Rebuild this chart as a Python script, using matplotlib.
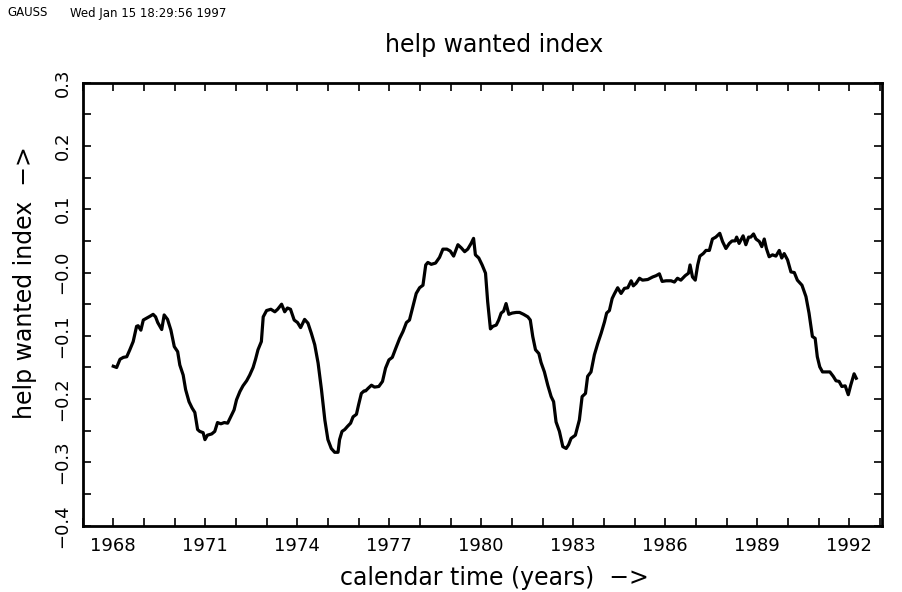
import numpy as np
import matplotlib
matplotlib.use("Agg")
import matplotlib.pyplot as plt
from matplotlib.ticker import MultipleLocator, FixedLocator, FuncFormatter


# points (decimal year, index value)
years = [
    1968.00, 1968.11, 1968.22, 1968.33, 1968.44, 1968.54, 1968.65, 1968.76, 1968.81, 1968.90,
    1968.98, 1969.09, 1969.20, 1969.30, 1969.38, 1969.45, 1969.58, 1969.66, 1969.77, 1969.88,
    1969.99, 1970.10, 1970.17, 1970.28, 1970.36, 1970.47, 1970.57, 1970.66, 1970.75, 1970.82,
    1970.93, 1970.99, 1971.07, 1971.21, 1971.31, 1971.40, 1971.51, 1971.62, 1971.73, 1971.83,
    1971.94, 1972.02, 1972.13, 1972.23, 1972.35, 1972.45, 1972.56, 1972.64, 1972.72, 1972.83,
    1972.89, 1973.00, 1973.14, 1973.27, 1973.36, 1973.49, 1973.59, 1973.68, 1973.78, 1973.90,
    1974.01, 1974.11, 1974.24, 1974.35, 1974.46, 1974.57, 1974.68, 1974.79, 1974.90, 1975.00,
    1975.11, 1975.22, 1975.33, 1975.38, 1975.46, 1975.55, 1975.64, 1975.74, 1975.82, 1975.93,
    1976.00, 1976.09, 1976.18, 1976.23, 1976.31, 1976.42, 1976.52, 1976.66, 1976.78, 1976.88,
    1976.99, 1977.10, 1977.21, 1977.34, 1977.45, 1977.56, 1977.66, 1977.77, 1977.88, 1977.99,
    1978.10, 1978.19, 1978.26, 1978.37, 1978.51, 1978.64, 1978.75, 1978.88, 1978.99, 1979.10,
    1979.24, 1979.35, 1979.46, 1979.56, 1979.67, 1979.75, 1979.81, 1979.92, 1980.03, 1980.14,
    1980.21, 1980.30, 1980.38, 1980.49, 1980.57, 1980.65, 1980.73, 1980.81, 1980.90, 1981.01,
    1981.14, 1981.25, 1981.38, 1981.52, 1981.60, 1981.68, 1981.77, 1981.88, 1981.95, 1982.06,
    1982.17, 1982.28, 1982.36, 1982.44, 1982.55, 1982.66, 1982.77, 1982.85, 1982.93, 1983.07,
    1983.20, 1983.29, 1983.40, 1983.47, 1983.58, 1983.69, 1983.80, 1983.91, 1984.02, 1984.09,
    1984.18, 1984.27, 1984.34, 1984.45, 1984.56, 1984.67, 1984.78, 1984.89, 1984.96, 1985.05,
    1985.16, 1985.26, 1985.43, 1985.59, 1985.70, 1985.81, 1985.90, 1986.03, 1986.19, 1986.30,
    1986.40, 1986.51, 1986.65, 1986.76, 1986.81, 1986.89, 1986.98, 1987.06, 1987.13, 1987.24,
    1987.33, 1987.44, 1987.54, 1987.65, 1987.78, 1987.87, 1987.98, 1988.09, 1988.18, 1988.28,
    1988.33, 1988.41, 1988.54, 1988.63, 1988.72, 1988.79, 1988.88, 1988.96, 1989.07, 1989.15,
    1989.23, 1989.30, 1989.39, 1989.50, 1989.61, 1989.72, 1989.80, 1989.88, 1989.99, 1990.10,
    1990.21, 1990.31, 1990.46, 1990.59, 1990.69, 1990.80, 1990.89, 1990.96, 1991.04, 1991.13,
    1991.24, 1991.37, 1991.48, 1991.57, 1991.67, 1991.76, 1991.87, 1991.97, 1992.05, 1992.16,
    1992.23,
]
hwi = [
    -0.148, -0.150, -0.137, -0.134, -0.133, -0.122, -0.109, -0.085, -0.084, -0.091,
    -0.075, -0.072, -0.069, -0.066, -0.070, -0.079, -0.090, -0.067, -0.074, -0.091,
    -0.117, -0.125, -0.146, -0.162, -0.185, -0.204, -0.214, -0.221, -0.248, -0.251,
    -0.253, -0.264, -0.257, -0.255, -0.251, -0.237, -0.239, -0.237, -0.238, -0.228,
    -0.217, -0.201, -0.188, -0.179, -0.171, -0.162, -0.150, -0.137, -0.122, -0.109,
    -0.070, -0.060, -0.058, -0.062, -0.058, -0.050, -0.062, -0.056, -0.058, -0.075,
    -0.079, -0.087, -0.074, -0.080, -0.096, -0.114, -0.143, -0.185, -0.233, -0.264,
    -0.278, -0.284, -0.284, -0.264, -0.251, -0.248, -0.243, -0.238, -0.228, -0.224,
    -0.209, -0.191, -0.187, -0.187, -0.183, -0.178, -0.181, -0.180, -0.172, -0.151,
    -0.138, -0.134, -0.120, -0.104, -0.093, -0.079, -0.075, -0.054, -0.033, -0.024,
    -0.020, 0.012, 0.016, 0.013, 0.015, 0.024, 0.037, 0.037, 0.034, 0.026,
    0.044, 0.039, 0.033, 0.037, 0.046, 0.054, 0.028, 0.023, 0.012, -0.001,
    -0.046, -0.089, -0.085, -0.083, -0.075, -0.064, -0.061, -0.049, -0.066, -0.064,
    -0.063, -0.063, -0.066, -0.070, -0.075, -0.101, -0.122, -0.128, -0.142, -0.157,
    -0.178, -0.196, -0.204, -0.236, -0.251, -0.275, -0.278, -0.272, -0.262, -0.257,
    -0.233, -0.196, -0.191, -0.164, -0.157, -0.130, -0.112, -0.096, -0.078, -0.064,
    -0.060, -0.041, -0.034, -0.024, -0.033, -0.025, -0.024, -0.013, -0.021, -0.017,
    -0.009, -0.012, -0.011, -0.007, -0.005, -0.002, -0.014, -0.013, -0.013, -0.015,
    -0.009, -0.012, -0.005, -0.001, 0.012, -0.007, -0.012, 0.012, 0.026, 0.030,
    0.035, 0.035, 0.053, 0.056, 0.062, 0.049, 0.038, 0.046, 0.050, 0.050,
    0.056, 0.046, 0.058, 0.044, 0.056, 0.056, 0.061, 0.053, 0.049, 0.041,
    0.053, 0.038, 0.025, 0.028, 0.026, 0.035, 0.023, 0.030, 0.020, 0.001,
    0.000, -0.012, -0.020, -0.038, -0.064, -0.101, -0.104, -0.133, -0.149, -0.157,
    -0.157, -0.157, -0.164, -0.171, -0.172, -0.180, -0.179, -0.193, -0.178, -0.160,
    -0.167,
]

year_labels = [1968, 1971, 1974, 1977, 1980, 1983, 1986, 1989, 1992]

plt.rcParams["font.family"] = ["DejaVu Sans"]

fig = plt.figure(figsize=(9.02, 5.92), dpi=100)
ax = fig.add_axes([82.6 / 902, 1 - 525.7 / 592, (882 - 82.6) / 902, (525.7 - 82.7) / 592])

ax.plot(years, hwi, color="black", linewidth=2.3, solid_joinstyle="round")

ax.set_xlim(1967, 1993.07)
ax.set_ylim(-0.4, 0.3)

ax.xaxis.set_major_locator(FixedLocator(year_labels))
ax.xaxis.set_minor_locator(MultipleLocator(1))
ax.yaxis.set_major_locator(MultipleLocator(0.1))
ax.yaxis.set_minor_locator(MultipleLocator(0.05))


def ylab(v, pos):
    s = "%.1f" % v
    if s in ("0.0", "-0.0"):
        return "\u22120.0"
    return s.replace("-", "\u2212")


ax.yaxis.set_major_formatter(FuncFormatter(ylab))

for side in ax.spines.values():
    side.set_linewidth(2)

ax.tick_params(which="both", direction="in", top=True, right=True,
               length=6, width=1.2, labelsize=13, color="black")
ax.tick_params(axis="x", pad=8)
ax.tick_params(axis="y", pad=8)
for lbl in ax.get_yticklabels():
    lbl.set_rotation(90)
    lbl.set_va("center")

fig.text(7 / 902, 1 - 13 / 592, "GAUSS", fontsize=8.5, va="center", ha="left")
fig.text(70 / 902, 1 - 13 / 592, "Wed Jan 15 18:29:56 1997", fontsize=8.5, va="center", ha="left")
fig.text(494 / 902, 1 - 45 / 592, "help wanted index", fontsize=17, ha="center", va="center")
fig.text(494 / 902, 1 - 578 / 592, "calendar time (years)  \u2212>", fontsize=17,
         ha="center", va="center")
fig.text(25 / 902, 1 - 283 / 592, "help wanted index  \u2212>", fontsize=17,
         ha="center", va="center", rotation=90)

fig.savefig("out.png", dpi=100)
